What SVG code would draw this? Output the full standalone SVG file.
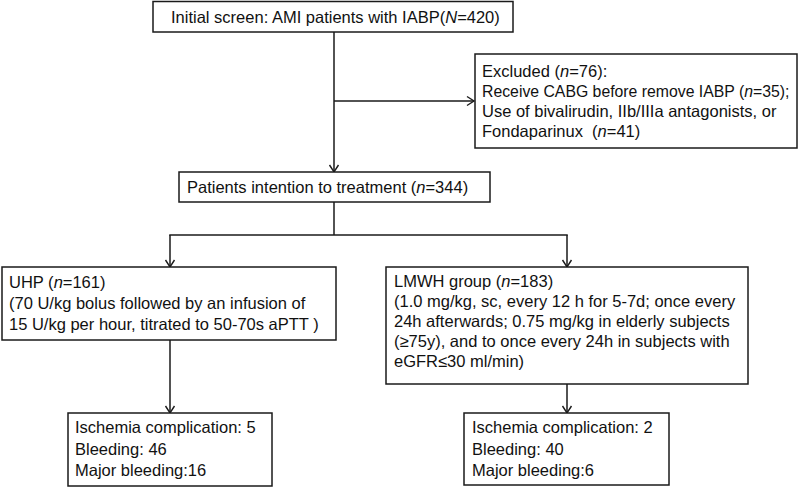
<svg xmlns="http://www.w3.org/2000/svg" width="800" height="488" viewBox="0 0 800 488">
<style>
  .box { fill: #ffffff; stroke: #1a1a1a; stroke-width: 1.5; }
  .t { font-family: "Liberation Sans", Arial, sans-serif; font-size: 16.5px; fill: #111111; }
  .s { font-size: 15.8px; }
  .i { font-style: italic; }
  .c { fill: none; stroke: #1a1a1a; stroke-width: 1.5; }
</style>
<defs>
  <marker id="arr" markerUnits="userSpaceOnUse" markerWidth="12" markerHeight="12" refX="9" refY="6" orient="auto">
    <path d="M2,1.5 L9,6 L2,10.5" fill="none" stroke="#1a1a1a" stroke-width="1.4"/>
  </marker>
</defs>
<rect width="800" height="488" fill="#ffffff"/>

<g id="connectors">
  <line class="c" x1="334" y1="32" x2="334" y2="172" marker-end="url(#arr)"/>
  <line class="c" x1="334" y1="101" x2="474" y2="101" marker-end="url(#arr)"/>
  <line class="c" x1="334" y1="202" x2="334" y2="235"/>
  <line class="c" x1="169.25" y1="235" x2="567.75" y2="235"/>
  <line class="c" x1="170" y1="235" x2="170" y2="267" marker-end="url(#arr)"/>
  <line class="c" x1="567" y1="235" x2="567" y2="267" marker-end="url(#arr)"/>
  <line class="c" x1="170" y1="340" x2="170" y2="413" marker-end="url(#arr)"/>
  <line class="c" x1="567" y1="384" x2="567" y2="413" marker-end="url(#arr)"/>
</g>

<g id="initial">
  <rect class="box" x="153" y="1.5" width="360" height="30.5"/>
  <text class="t" x="171" y="23">Initial screen: AMI patients with IABP(<tspan class="i">N</tspan>=420)</text>
</g>

<g id="excluded">
  <rect class="box" x="475" y="54" width="322" height="94"/>
  <text class="t" x="482" y="77">Excluded (<tspan class="i">n</tspan>=76):</text>
  <text class="t s" x="482" y="97">Receive CABG before remove IABP (<tspan class="i">n</tspan>=35);</text>
  <text class="t" x="482" y="117">Use of bivalirudin, IIb/IIIa antagonists, or</text>
  <text class="t" x="482" y="137" xml:space="preserve">Fondaparinux  (<tspan class="i">n</tspan>=41)</text>
</g>

<g id="itt">
  <rect class="box" x="179" y="172" width="311" height="30"/>
  <text class="t" x="187" y="193">Patients intention to treatment (<tspan class="i">n</tspan>=344)</text>
</g>

<g id="uhp">
  <rect class="box" x="2" y="267" width="334" height="73"/>
  <text class="t" x="9" y="288">UHP (<tspan class="i">n</tspan>=161)</text>
  <text class="t" x="9" y="309">(70 U/kg bolus followed by an infusion of</text>
  <text class="t" x="9" y="330">15 U/kg per hour, titrated to 50-70s aPTT )</text>
</g>

<g id="lmwh">
  <rect class="box" x="386" y="267" width="362" height="117"/>
  <text class="t" x="394" y="287">LMWH group (<tspan class="i">n</tspan>=183)</text>
  <text class="t" x="394" y="307">(1.0 mg/kg, sc, every 12 h for 5-7d; once every</text>
  <text class="t" x="394" y="327">24h afterwards; 0.75 mg/kg in elderly subjects</text>
  <text class="t" x="394" y="347">(≥75y), and to once every 24h in subjects with</text>
  <text class="t" x="394" y="367">eGFR≤30 ml/min)</text>
</g>

<g id="uhp-outcome">
  <rect class="box" x="68" y="413" width="204" height="73"/>
  <text class="t" x="75" y="433">Ischemia complication: 5</text>
  <text class="t" x="75" y="455">Bleeding: 46</text>
  <text class="t" x="75" y="476">Major bleeding:16</text>
</g>

<g id="lmwh-outcome">
  <rect class="box" x="464" y="413" width="205" height="72"/>
  <text class="t" x="472" y="433">Ischemia complication: 2</text>
  <text class="t" x="472" y="455">Bleeding: 40</text>
  <text class="t" x="472" y="476">Major bleeding:6</text>
</g>
</svg>
